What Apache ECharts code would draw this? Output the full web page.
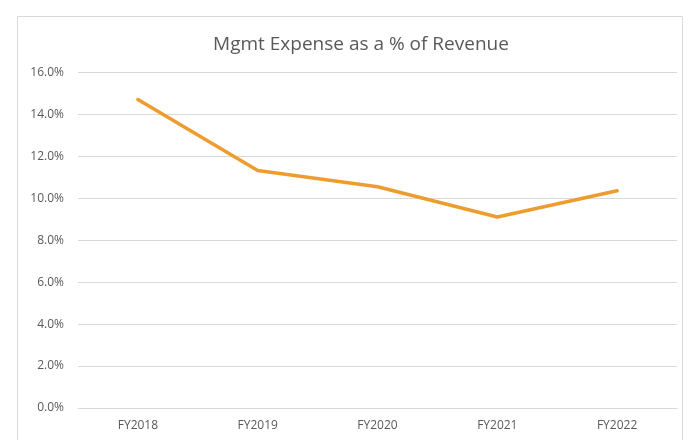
<!DOCTYPE html>
<html>
<head>
<meta charset="utf-8">
<script src="https://cdn.jsdelivr.net/npm/echarts@6/dist/echarts.min.js"></script>
<style>
  html, body { margin: 0; padding: 0; background: #fff; }
  #chart { width: 696px; height: 440px; }
</style>
</head>
<body>
<div id="chart"></div>
<script>
const categories = ["FY2018", "FY2019", "FY2020", "FY2021", "FY2022"];
const mgmtExpensePct = [14.71, 11.33, 10.55, 9.11, 10.36];

const chart = echarts.init(document.getElementById("chart"));

chart.setOption({
  animation: false,
  textStyle: { fontFamily: "Open Sans" },
  graphic: [
    {
      type: "rect",
      shape: { x: 17.5, y: 16.5, width: 665, height: 440 },
      style: { fill: "none", stroke: "#d9d9d9", lineWidth: 1 },
      silent: true,
    },
  ],
  title: {
    text: "Mgmt Expense as a % of Revenue",
    left: 356,
    textAlign: "center",
    top: 30,
    textStyle: {
      color: "#595959",
      fontSize: 19,
      fontWeight: 400,
      fontFamily: "Open Sans",
    },
  },
  grid: {
    left: 78,
    right: 19,
    top: 72.5,
    bottom: 32,
    containLabel: false,
  },
  xAxis: {
    type: "category",
    data: categories,
    boundaryGap: true,
    axisLine: { lineStyle: { color: "#d9d9d9", width: 1 } },
    axisTick: { show: false },
    axisLabel: {
      color: "#595959",
      fontSize: 12,
      margin: 12,
    },
  },
  yAxis: {
    type: "value",
    min: 0,
    max: 16,
    interval: 2,
    axisLine: { show: false },
    axisTick: { show: false },
    splitLine: { lineStyle: { color: "#d9d9d9", width: 1 } },
    axisLabel: {
      color: "#595959",
      fontSize: 12,
      margin: 14,
      formatter: (v) => v.toFixed(1) + "%",
    },
  },
  series: [
    {
      name: "Mgmt Expense %",
      type: "line",
      data: mgmtExpensePct,
      symbol: "none",
      lineStyle: { color: "#ee9c2e", width: 3.5, cap: "round", join: "round" },
      itemStyle: { color: "#ee9c2e" },
    },
  ],
});
</script>
</body>
</html>
